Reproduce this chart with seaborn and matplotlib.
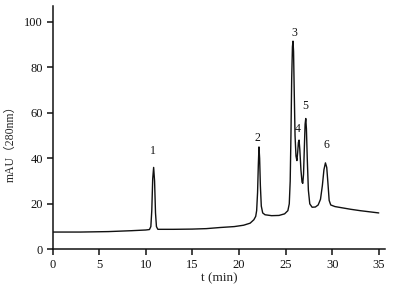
import numpy as np
import matplotlib
matplotlib.use("Agg")
import matplotlib.pyplot as plt
import pandas as pd
import seaborn as sns

# chromatogram trace: time (min), absorbance (mAU)
t_min = [0.0, 3.0, 6.0, 8.5, 10.0, 10.4, 10.55, 10.65, 10.75, 10.85, 10.95, 11.05, 11.15, 11.3,
         13.0, 15.0, 16.5, 18.0, 19.5, 20.5, 21.2, 21.6, 21.8, 21.9, 22.0, 22.08, 22.15, 22.22,
         22.3, 22.4, 22.55, 22.8, 23.5, 24.3, 24.9, 25.25, 25.4, 25.5, 25.58, 25.66, 25.74, 25.8,
         25.86, 25.93, 26.02, 26.12, 26.22, 26.3, 26.38, 26.45, 26.53, 26.65, 26.77, 26.85, 26.93,
         27.02, 27.1, 27.17, 27.24, 27.33, 27.45, 27.6, 27.85, 28.2, 28.5, 28.75, 28.95, 29.12,
         29.28, 29.42, 29.55, 29.68, 29.85, 30.3, 31.0, 32.0, 33.0, 34.0, 35.0]
mau = [7.6, 7.6, 7.8, 8.2, 8.5, 8.7, 10.0, 17.0, 31.0, 36.0, 30.0, 16.0, 10.0, 8.8,
       8.8, 8.9, 9.1, 9.6, 10.0, 10.6, 11.5, 13.0, 14.5, 17.0, 25.0, 37.0, 45.0, 40.0,
       28.0, 19.0, 16.0, 15.2, 14.8, 14.9, 15.6, 17.0, 20.0, 30.0, 50.0, 75.0, 89.0, 91.5,
       87.0, 70.0, 50.0, 41.0, 39.0, 42.5, 47.0, 48.0, 44.0, 35.0, 29.5, 29.0, 33.0,
       45.0, 55.0, 57.5, 53.0, 40.0, 26.0, 20.0, 18.5, 18.6, 19.5, 22.0, 28.0, 35.0,
       38.0, 36.0, 29.0, 21.5, 19.5, 18.8, 18.3, 17.6, 17.0, 16.5, 16.0]

peak_ids = ["1", "2", "3", "4", "5", "6"]
peak_t = [10.8, 22.0, 25.9, 26.3, 27.15, 29.4]
peak_lab_y = [43, 49, 95, 53, 63, 46]

df = pd.DataFrame({"t": t_min, "mAU": mau})

sns.set_theme(style="ticks")
plt.rcParams["font.family"] = ["Liberation Serif", "Noto Sans CJK SC"]

fig = plt.figure(figsize=(3.99, 2.93), dpi=100)
ax = fig.add_axes([0.1316, 0.149, 0.834, 0.831])

sns.lineplot(data=df, x="t", y="mAU", ax=ax, color="#111111", lw=1.0, sort=False)

for lab, x, y in zip(peak_ids, peak_t, peak_lab_y):
    ax.text(x, y, lab, ha="center", va="center", fontsize=8.5, color="#111111")

ax.set_xlim(0, 35.7)
ax.set_ylim(0, 107)
ax.set_xticks(np.arange(0, 36, 5))
ax.set_yticks(np.arange(0, 101, 20))
ax.tick_params(direction="out", length=4, width=1.1, labelsize=9, colors="#111111", pad=3)
ax.set_xlabel("t (min)", fontsize=9.5, labelpad=1)
ax.set_ylabel("mAU（280nm）", fontsize=8.5)
ax.yaxis.set_label_coords(-0.108, 0.444)
for s in ["top", "right"]:
    ax.spines[s].set_visible(False)
for s in ["left", "bottom"]:
    ax.spines[s].set_linewidth(1.1)
    ax.spines[s].set_color("#111111")

fig.savefig("out.png", dpi=100)
